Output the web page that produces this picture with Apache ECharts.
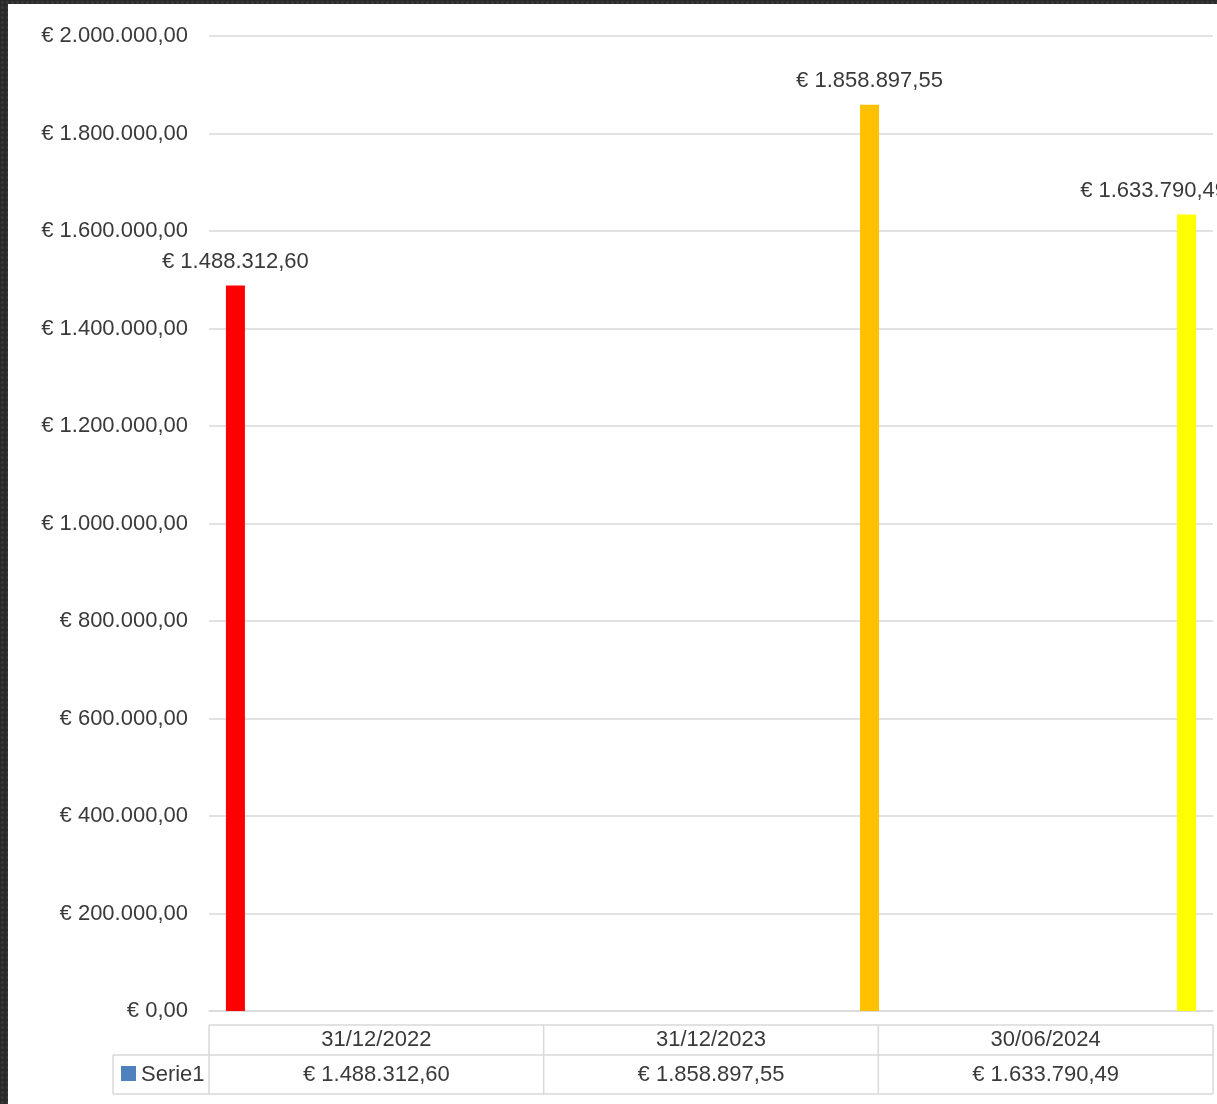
<!DOCTYPE html>
<html>
<head>
<meta charset="utf-8">
<script src="https://cdn.jsdelivr.net/npm/echarts@6/dist/echarts.min.js"></script>
<style>
  html, body { margin: 0; padding: 0; }
  body {
    width: 1217px; height: 1104px; overflow: hidden; position: relative;
    background-color: #2a2a2a;
    background-image: radial-gradient(circle, #3a3a3a 1px, transparent 1.6px);
    background-size: 5px 5px;
  }
  #chart { position: absolute; left: 8px; top: 4px; width: 1209px; height: 1100px; background: #ffffff; }
</style>
</head>
<body>
<div id="chart"></div>
<script>
// ---- data ----
const dates = ['31/12/2022', '31/12/2023', '30/06/2024'];
const values = [1488312.60, 1858897.55, 1633790.49];
const barColors = ['#FF0000', '#FFC000', '#FFFF00'];
const seriesName = 'Serie1';
const yMin = 0, yMax = 2000000, yStep = 200000;

// ---- helpers ----
function euro(v) {
  const parts = Number(v).toFixed(2).split('.');
  const intPart = parts[0].replace(/\B(?=(\d{3})+(?!\d))/g, '.');
  return '\u20AC ' + intPart + ',' + parts[1];
}
function monthKey(d) {
  const p = d.split('/');
  return parseInt(p[2], 10) * 12 + parseInt(p[1], 10);
}
const base = monthKey(dates[0]);
const xIdx = dates.map(d => monthKey(d) - base);

const W = 1209, H = 1100;
const grid = { left: 201, right: 4, top: 32, bottom: 93 };
const plotLeft = grid.left, plotRight = W - grid.right;
const FONT = '"Liberation Sans", Arial, sans-serif';
const TXT = '#3a3a3a';
const LINE = '#d9d9d9';

// ---- data table via graphic ----
const tblTop = 1021, tblMid = 1051, tblBot = 1090, legLeft = 105;
const colW = (plotRight - plotLeft) / dates.length;
const g = [];
function hline(x1, x2, y) {
  g.push({ type: 'line', shape: { x1, y1: y, x2, y2: y }, style: { stroke: LINE, lineWidth: 1.5 }, silent: true });
}
function vline(x, y1, y2) {
  g.push({ type: 'line', shape: { x1: x, y1, x2: x, y2 }, style: { stroke: LINE, lineWidth: 1.5 }, silent: true });
}
hline(plotLeft, plotRight, tblTop);
hline(legLeft, plotRight, tblMid);
hline(legLeft, plotRight, tblBot);
vline(legLeft, tblMid, tblBot);
for (let i = 0; i <= dates.length; i++) vline(plotLeft + i * colW, tblTop, tblBot);
dates.forEach((d, i) => {
  const cx = plotLeft + (i + 0.5) * colW;
  g.push({ type: 'text', x: cx, y: (tblTop + tblMid) / 2,
    style: { text: d, fill: TXT, font: '22px ' + FONT, align: 'center', verticalAlign: 'middle' } });
  g.push({ type: 'text', x: cx, y: (tblMid + tblBot) / 2,
    style: { text: euro(values[i]), fill: TXT, font: '22px ' + FONT, align: 'center', verticalAlign: 'middle' } });
});
g.push({ type: 'rect', shape: { x: 113, y: 1062, width: 15, height: 15 }, style: { fill: '#4F81BD' } });
g.push({ type: 'text', x: 133, y: (tblMid + tblBot) / 2,
  style: { text: seriesName, fill: TXT, font: '22px ' + FONT, align: 'left', verticalAlign: 'middle' } });

const chart = echarts.init(document.getElementById('chart'), null, { renderer: 'canvas', width: W, height: H });
chart.setOption({
  animation: false,
  backgroundColor: '#ffffff',
  grid: grid,
  xAxis: {
    type: 'value',
    min: xIdx[0] - 0.5,
    max: xIdx[xIdx.length - 1] + 0.5,
    axisLabel: { show: false },
    axisTick: { show: false },
    splitLine: { show: false },
    axisLine: { show: true, lineStyle: { color: LINE, width: 1.5 } }
  },
  yAxis: {
    type: 'value',
    min: yMin, max: yMax, interval: yStep,
    axisLine: { show: false },
    axisTick: { show: false },
    splitLine: { lineStyle: { color: LINE, width: 1.5 } },
    axisLabel: { formatter: v => euro(v), color: TXT, fontSize: 22, fontFamily: FONT, margin: 21, padding: [3, 0, 0, 0] }
  },
  series: [{
    name: seriesName,
    type: 'bar',
    barWidth: 19,
    data: values.map((v, i) => {
      const item = { value: [xIdx[i], v], itemStyle: { color: barColors[i] } };
      if (i === values.length - 1) item.label = { offset: [-33, 0] };
      return item;
    }),
    label: {
      show: true, position: 'top', distance: 13,
      formatter: p => euro(p.value[1]),
      color: TXT, fontSize: 22, fontFamily: FONT
    }
  }],
  graphic: g
});
</script>
</body>
</html>
